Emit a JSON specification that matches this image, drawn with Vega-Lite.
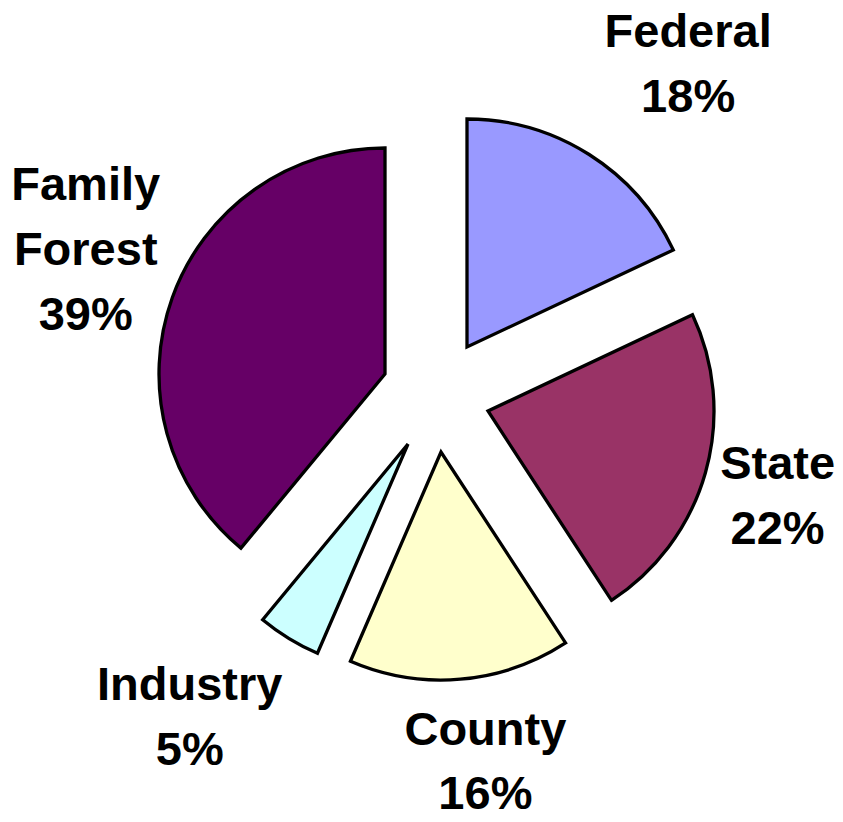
{
  "$schema": "https://vega.github.io/schema/vega-lite/v6.json",
  "width": 812,
  "height": 788,
  "autosize": "none",
  "padding": {"left": 31, "top": 0, "right": 0, "bottom": 34},
  "background": "white",
  "view": {"stroke": null},
  "data": {
    "values": [
      {"owner": "Federal", "pct": 18.0, "idx": 1, "label": "Federal\n18%"},
      {"owner": "State", "pct": 22.8, "idx": 2, "label": "State\n22%"},
      {"owner": "County", "pct": 15.7, "idx": 3, "label": "County\n16%"},
      {"owner": "Industry", "pct": 4.5, "idx": 4, "label": "Industry\n5%"},
      {"owner": "Family Forest", "pct": 39.0, "idx": 5, "label": "Family\nForest\n39%"}
    ]
  },
  "transform": [
    {"stack": "pct", "groupby": [], "sort": [{"field": "idx", "order": "ascending"}], "as": ["p0", "p1"]}
  ],
  "encoding": {
    "color": {
      "field": "owner",
      "type": "nominal",
      "scale": {
        "domain": ["Federal", "State", "County", "Industry", "Family Forest"],
        "range": ["#9999FF", "#993366", "#FFFFCC", "#CCFFFF", "#660066"]
      },
      "legend": null
    }
  },
  "layer": [
    {
      "transform": [{"filter": "datum.owner === 'Federal'"}],
      "mark": {"type": "arc", "radius": 228, "stroke": "#000000", "strokeWidth": 3.3, "xOffset": 30, "yOffset": -47},
      "encoding": {
        "theta": {"field": "p0", "type": "quantitative", "scale": {"domain": [0, 100]}},
        "theta2": {"field": "p1"}
      }
    },
    {
      "transform": [{"filter": "datum.owner === 'State'"}],
      "mark": {"type": "arc", "radius": 226, "stroke": "#000000", "strokeWidth": 3.3, "xOffset": 51, "yOffset": 17},
      "encoding": {
        "theta": {"field": "p0", "type": "quantitative", "scale": {"domain": [0, 100]}},
        "theta2": {"field": "p1"}
      }
    },
    {
      "transform": [{"filter": "datum.owner === 'County'"}],
      "mark": {"type": "arc", "radius": 228, "stroke": "#000000", "strokeWidth": 3.3, "xOffset": 4, "yOffset": 58},
      "encoding": {
        "theta": {"field": "p0", "type": "quantitative", "scale": {"domain": [0, 100]}},
        "theta2": {"field": "p1"}
      }
    },
    {
      "transform": [{"filter": "datum.owner === 'Industry'"}],
      "mark": {"type": "arc", "radius": 228, "stroke": "#000000", "strokeWidth": 3.3, "xOffset": -29, "yOffset": 50},
      "encoding": {
        "theta": {"field": "p0", "type": "quantitative", "scale": {"domain": [0, 100]}},
        "theta2": {"field": "p1"}
      }
    },
    {
      "transform": [{"filter": "datum.owner === 'Family Forest'"}],
      "mark": {"type": "arc", "radius": 226, "stroke": "#000000", "strokeWidth": 3.3, "xOffset": -52, "yOffset": -20},
      "encoding": {
        "theta": {"field": "p0", "type": "quantitative", "scale": {"domain": [0, 100]}},
        "theta2": {"field": "p1"}
      }
    },
    {
      "mark": {"type": "text", "radius": 440, "thetaOffset": 0.042, "font": "Liberation Sans", "fontWeight": "bold", "fontSize": 47, "lineHeight": 65, "lineBreak": "\n", "align": "center", "baseline": "middle"},
      "encoding": {
        "theta": {"field": "pct", "type": "quantitative", "stack": true},
        "order": {"field": "idx", "type": "quantitative"},
        "color": {"value": "#000000"},
        "text": {"condition": {"test": "datum.owner === 'Federal'", "field": "label"}, "value": ""}
      }
    },
    {
      "mark": {"type": "text", "radius": 348, "thetaOffset": -0.07, "font": "Liberation Sans", "fontWeight": "bold", "fontSize": 47, "lineHeight": 65, "lineBreak": "\n", "align": "center", "baseline": "middle"},
      "encoding": {
        "theta": {"field": "pct", "type": "quantitative", "stack": true},
        "order": {"field": "idx", "type": "quantitative"},
        "color": {"value": "#000000"},
        "text": {"condition": {"test": "datum.owner === 'State'", "field": "label"}, "value": ""}
      }
    },
    {
      "mark": {"type": "text", "radius": 340, "thetaOffset": -0.058, "font": "Liberation Sans", "fontWeight": "bold", "fontSize": 47, "lineHeight": 64, "lineBreak": "\n", "align": "center", "baseline": "middle"},
      "encoding": {
        "theta": {"field": "pct", "type": "quantitative", "stack": true},
        "order": {"field": "idx", "type": "quantitative"},
        "color": {"value": "#000000"},
        "text": {"condition": {"test": "datum.owner === 'County'", "field": "label"}, "value": ""}
      }
    },
    {
      "mark": {"type": "text", "radius": 383, "thetaOffset": 0.152, "font": "Liberation Sans", "fontWeight": "bold", "fontSize": 47, "lineHeight": 65, "lineBreak": "\n", "align": "center", "baseline": "middle"},
      "encoding": {
        "theta": {"field": "pct", "type": "quantitative", "stack": true},
        "order": {"field": "idx", "type": "quantitative"},
        "color": {"value": "#000000"},
        "text": {"condition": {"test": "datum.owner === 'Industry'", "field": "label"}, "value": ""}
      }
    },
    {
      "mark": {"type": "text", "radius": 408, "thetaOffset": 0.188, "font": "Liberation Sans", "fontWeight": "bold", "fontSize": 47, "lineHeight": 65, "lineBreak": "\n", "align": "center", "baseline": "middle"},
      "encoding": {
        "theta": {"field": "pct", "type": "quantitative", "stack": true},
        "order": {"field": "idx", "type": "quantitative"},
        "color": {"value": "#000000"},
        "text": {"condition": {"test": "datum.owner === 'Family Forest'", "field": "label"}, "value": ""}
      }
    }
  ]
}
